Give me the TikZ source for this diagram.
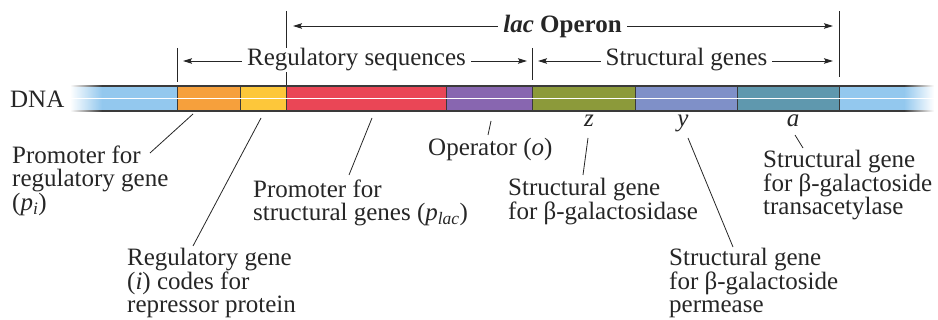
\documentclass[tikz,border=0pt]{standalone}
\usepackage{fontspec}
\setmainfont{Liberation Serif}
\usetikzlibrary{arrows.meta}

% colours of the DNA strip and its gene segments
\definecolor{ink}{HTML}{262626}
\definecolor{edge}{HTML}{3A3A3A}
\definecolor{dnablue}{HTML}{93C8EE}
\definecolor{segorange}{HTML}{F6A03C}
\definecolor{segyellow}{HTML}{FDC73A}
\definecolor{segred}{HTML}{EA4656}
\definecolor{segpurple}{HTML}{8866B0}
\definecolor{segolive}{HTML}{8C9A3A}
\definecolor{segslate}{HTML}{7F90C8}
\definecolor{segteal}{HTML}{5F98AE}

% text size and tight line spacing for all labels
\newcommand\labfont{\fontsize{25}{23.5}\selectfont\lineskip=0pt\relax\lineskiplimit=-20pt\relax}

\begin{document}
\begin{tikzpicture}[x=1pt,y=-1pt,
  txt/.style={font=\labfont, text=ink},
  lbl/.style={txt, inner sep=0pt, anchor=north west, align=left},
  gene/.style={txt, inner sep=0pt, anchor=base},
  span/.style={txt, anchor=base, fill=white, inner xsep=5pt, inner ysep=1pt},
  arr/.style={draw=ink, line width=0.9pt,
    {Stealth[length=9pt,width=5.5pt,inset=1.5pt]}-{Stealth[length=9pt,width=5.5pt,inset=1.5pt]}},
  tick/.style={draw=ink, line width=0.9pt},
  conn/.style={draw=ink, line width=0.8pt},
  divider/.style={draw=edge, line width=0.9pt}
]
\useasboundingbox (0,0) rectangle (938,320);

% ---- DNA strip ----
\shade[left color=white, right color=dnablue] (70,86) rectangle (102,111);
\fill[dnablue] (102,86) rectangle (177,111);
\fill[segorange] (177,86) rectangle (240,111);
\fill[segyellow] (240,86) rectangle (286,111);
\fill[segred] (286,86) rectangle (446,111);
\fill[segpurple] (446,86) rectangle (532,111);
\fill[segolive] (532,86) rectangle (635,111);
\fill[segslate] (635,86) rectangle (737,111);
\fill[segteal] (737,86) rectangle (839,111);
\fill[dnablue] (839,86) rectangle (904,111);
\shade[left color=dnablue, right color=white] (904,86) rectangle (934,111);

% strip borders, fading at both ends
\shade[left color=white, right color=edge] (70,85.2) rectangle (102,86.8);
\fill[edge] (102,85.2) rectangle (904,86.8);
\shade[left color=edge, right color=white] (904,85.2) rectangle (934,86.8);
\shade[left color=white, right color=edge] (70,110.2) rectangle (102,111.8);
\fill[edge] (102,110.2) rectangle (904,111.8);
\shade[left color=edge, right color=white] (904,110.2) rectangle (934,111.8);

% segment boundaries
\foreach \bx in {177,240,286,446,532,635,737,839}
  \draw[divider] (\bx,86) -- (\bx,111);

% light centre line along the strip
\fill[white] (70,97.9) rectangle (934,99.2);

\node[txt, anchor=base west, inner sep=0pt] (dna) at (10,107.7) {DNA};

% ---- span markers above the strip ----
\coordinate (t1a) at (177,48);  \coordinate (t1b) at (177,82);
\coordinate (t2a) at (286,11);  \coordinate (t2b) at (286,85);
\coordinate (t3a) at (532,48);  \coordinate (t3b) at (532,80);
\coordinate (t4a) at (839,11);  \coordinate (t4b) at (839,77);
\draw[tick] (t1a) -- (t1b);
\draw[tick] (t2a) -- (t2b);
\draw[tick] (t3a) -- (t3b);
\draw[tick] (t4a) -- (t4b);

\coordinate (opL) at (293,26);  \coordinate (opR) at (833,26);
\coordinate (rsL) at (183,61);  \coordinate (rsR) at (527,61);
\coordinate (sgL) at (538,61);  \coordinate (sgR) at (833,61);
\draw[arr] (opL) -- (opR);
\draw[arr] (rsL) -- (rsR);
\draw[arr] (sgL) -- (sgR);

\node[span] (operon) at (562.5,32.5) {\textbf{\textit{lac} Operon}};
\node[span] (regseq) at (356.5,66) {Regulatory sequences};
\node[span] (structg) at (686.5,66) {Structural genes};

% ---- labels below the strip ----
\node[lbl] (lpi) at (12,145.6) {Promoter for\\regulatory gene\\(\textit{p}\textsubscript{\textit{i}})};
\node[lbl] (li) at (127,248) {Regulatory gene\\(\textit{i}) codes for\\repressor protein};
\node[lbl] (lplac) at (253,179.4) {Promoter for\\structural genes (\textit{p}\textsubscript{\textit{lac}})};
\node[lbl] (lop) at (428,137.6) {Operator (\textit{o})};
\node[gene] (gz) at (589,127) {\textit{z}};
\node[gene] (gy) at (683,127) {\textit{y}};
\node[gene] (ga) at (793,127) {\textit{a}};
\node[lbl] (lgal) at (508,178) {Structural gene\\for β-galactosidase};
\node[lbl] (lperm) at (669,248) {Structural gene\\for β-galactoside\\permease};
\node[lbl] (ltrans) at (763,150.4) {Structural gene\\for β-galactoside\\transacetylase};

% ---- leader lines ----
\coordinate (cpia) at (193,114);  \coordinate (cpib) at (150,153);
\coordinate (cia) at (261,118);   \coordinate (cib) at (193,246);
\coordinate (cplaca) at (372,118); \coordinate (cplacb) at (349,175);
\coordinate (copa) at (491,121);  \coordinate (copb) at (488,135);
\coordinate (cza) at (588,138);   \coordinate (czb) at (583,175);
\coordinate (cya) at (688,138);   \coordinate (cyb) at (733,247);
\coordinate (caa) at (795,135);   \coordinate (cab) at (803,148);
\draw[conn] (cpia) -- (cpib);
\draw[conn] (cia) -- (cib);
\draw[conn] (cplaca) -- (cplacb);
\draw[conn] (copa) -- (copb);
\draw[conn] (cza) -- (czb);
\draw[conn] (cya) -- (cyb);
\draw[conn] (caa) -- (cab);
\end{tikzpicture}
\end{document}
